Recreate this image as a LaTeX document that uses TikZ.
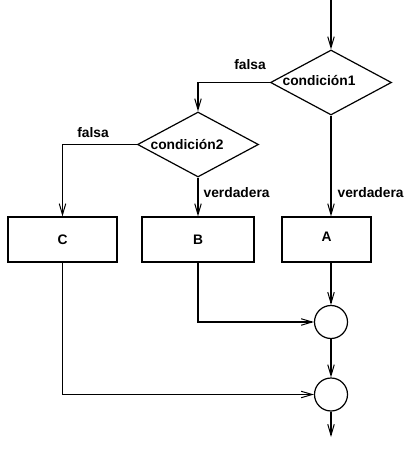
\documentclass[tikz,border=0pt]{standalone}
\usepackage{fontspec}
\setmainfont{Liberation Sans}
\usetikzlibrary{shapes.geometric,arrows.meta}
\begin{document}
\begin{tikzpicture}[x=1pt,y=-1pt,
  line width=1.2pt,
  every node/.style={font=\fontsize{13.8}{16}\selectfont\bfseries, inner sep=0pt},
  arr/.style={-{Straight Barb[length=11pt,width=6.5pt,line width=1pt]}},
  decision/.style={diamond, draw, minimum width=121pt, minimum height=65pt, inner sep=0pt},
  boxnode/.style={rectangle, draw, minimum height=45pt},
  merge/.style={circle, draw, minimum size=33pt, inner sep=0pt}]
\useasboundingbox (0,0) rectangle (408,454);
\coordinate (top) at (331,0);
\coordinate (bot) at (331,437);
\node[decision] (d1) at (331,82.5) {};
\node (t1) at (319,81) {condición1};
\node[decision] (d2) at (198,144.5) {};
\node (t2) at (187,145) {condición2};
\node[boxnode, minimum width=109pt] (C) at (62.5,239.5) {C};
\node[boxnode, minimum width=112pt] (B) at (198,239.5) {B};
\node[boxnode, minimum width=89pt] (A) at (326.5,239.5) {};
\node (tA) at (326.5,237) {A};
\node[merge] (m1) at (331,322) {};
\node[merge] (m2) at (331,394.5) {};
\node (f1) at (250,65) {falsa};
\node (f2) at (93,133) {falsa};
\node[anchor=west] (v2) at (203,193) {verdadera};
\node[anchor=west] (v1) at (337,193) {verdadera};
\draw[arr] (top) -- (d1.north);
\draw[arr] (d1.west) -| (d2.north);
\draw[arr] (d1.south) -- (d1.south |- A.north);
\draw[arr] (d2.west) -| (C.north);
\draw[arr] (d2.south) -- (B.north);
\draw[arr] (m1 |- A.south) -- (m1.north);
\draw[arr] (B.south) |- (m1.west);
\draw[arr] (m1.south) -- (m2.north);
\draw[arr] (C.south) |- (m2.west);
\draw[arr] (m2.south) -- (bot);
\end{tikzpicture}
\end{document}
